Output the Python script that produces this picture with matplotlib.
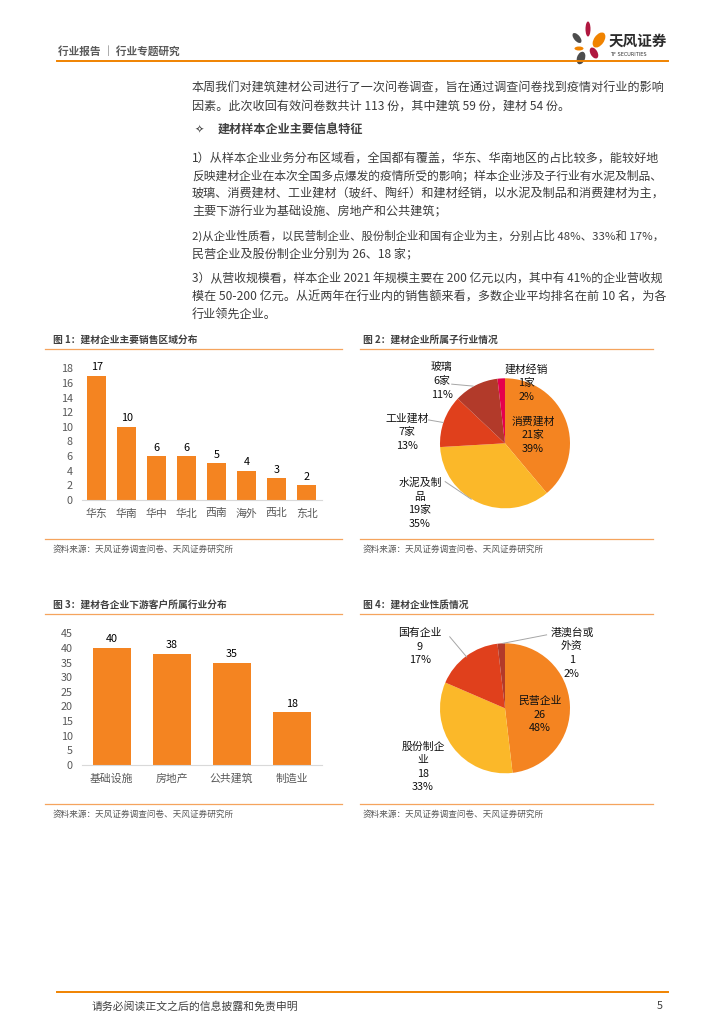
import textwrap

import matplotlib
matplotlib.use("Agg")
import matplotlib.pyplot as plt
from matplotlib.patches import Ellipse

plt.rcParams['font.family'] = ['Noto Sans CJK SC', 'DejaVu Sans']

# ---- data ----
regions = ['华东', '华南', '华中', '华北', '西南', '海外', '西北', '东北']
region_counts = [17, 10, 6, 6, 5, 4, 3, 2]

sub_names = ['消费建材', '水泥及制品', '工业建材', '玻璃', '建材经销']
sub_counts = [21, 19, 7, 6, 1]

downstream = ['基础设施', '房地产', '公共建筑', '制造业']
downstream_counts = [40, 38, 35, 18]

nature_names = ['民营企业', '股份制企业', '国有企业', '港澳台或外资']
nature_counts = [26, 18, 9, 1]

body_lines = [
    '本周我们对建筑建材公司进行了一次问卷调查，旨在通过调查问卷找到疫情对行业的影响',
    '因素。此次收回有效问卷数共计 113 份，其中建筑 59 份，建材 54 份。',
    None,
    '1）从样本企业业务分布区域看，全国都有覆盖，华东、华南地区的占比较多，能较好地',
    '反映建材企业在本次全国多点爆发的疫情所受的影响；样本企业涉及子行业有水泥及制品、',
    '玻璃、消费建材、工业建材（玻纤、陶纤）和建材经销，以水泥及制品和消费建材为主，',
    '主要下游行业为基础设施、房地产和公共建筑；',
    '2)从企业性质看，以民营制企业、股份制企业和国有企业为主，分别占比 48%、33%和 17%，',
    '民营企业及股份制企业分别为 26、18 家；',
    '3）从营收规模看，样本企业 2021 年规模主要在 200 亿元以内，其中有 41%的企业营收规',
    '模在 50-200 亿元。从近两年在行业内的销售额来看，多数企业平均排名在前 10 名，为各',
    '行业领先企业。',
]
body_y = [88, 106, 130, 158, 176, 194, 212, 236, 254, 279, 297, 315]

source = '资料来源：天风证券调查问卷、天风证券研究所'

# colours
ORANGE = '#F48421'
YELLOW = '#FBB829'
RED = '#E0401C'
BROWN = '#B23A2A'
PINK = '#E5004C'
LINE = '#F5A45E'
GREY = '#595959'

W, H = 724, 1024
fig = plt.figure(figsize=(W / 100, H / 100), dpi=100)
renderer = fig.canvas.get_renderer()

# page layer in pixel coordinates
bg = fig.add_axes([0, 0, 1, 1])
bg.set_xlim(0, W)
bg.set_ylim(H, 0)
bg.axis('off')

# header
bg.text(58, 51, '行业报告 ｜ 行业专题研究', fontsize=7.7, fontweight='bold',
        color=GREY, va='center')
bg.plot([57, 668], [60.7, 60.7], color='#F08300', lw=1.4)

# logo
petals = [
    (588, 29, 5, 15, 0, '#B0173F'),
    (577, 38, 6, 12, -40, '#4D4D4D'),
    (599, 40, 10, 17, 35, '#F08300'),
    (579, 48.5, 9, 4, 0, '#F08300'),
    (581, 58, 8, 13, 20, '#4D4D4D'),
    (594, 53, 7, 12, -30, '#B0173F'),
]
for cx, cy, w, h, ang, c in petals:
    bg.add_patch(Ellipse((cx, cy), w, h, angle=ang, color=c, lw=0))
bg.text(609, 41, '天风证券', fontsize=10.5, fontweight='bold', color='#2B2B2B',
        va='center')
bg.text(610, 55, 'TF SECURITIES', fontsize=3.6, color='#333333', va='center',
        family='DejaVu Sans')

# body text (lines wider than the column are shrunk to fit)
max_w = 474
for line, y in zip(body_lines, body_y):
    if line is None:
        bg.text(195, y, '✧', fontsize=8, color='#404040', va='center')
        bg.text(218, y, '建材样本企业主要信息特征', fontsize=8.7,
                fontweight='bold', color='#404040', va='center')
    else:
        t = bg.text(192, y, line, fontsize=8.7, color='#3C3C3C', va='center')
        w = t.get_window_extent(renderer).width
        if w > max_w:
            t.set_fontsize(8.7 * max_w / w)

# chart frames
frames = [
    (45, 342, 340, 349.3, 539.3, 549, '图 1：建材企业主要销售区域分布', 52.7),
    (360, 653, 340, 349.3, 539.3, 549, '图 2：建材企业所属子行业情况', 363),
    (45, 342, 605, 614.3, 804.3, 814, '图 3：建材各企业下游客户所属行业分布', 52.7),
    (360, 653, 605, 614.3, 804.3, 814, '图 4：建材企业性质情况', 363),
]
for x0, x1, ty, ly0, ly1, sy, title, tx in frames:
    bg.text(tx, ty, title, fontsize=7, fontweight='bold', color='#404040',
            va='center')
    bg.plot([x0, x1], [ly0, ly0], color=LINE, lw=0.9)
    bg.plot([x0, x1], [ly1, ly1], color=LINE, lw=0.9)
    bg.text(tx, sy, source, fontsize=6.2, color=GREY, va='center')

# footer
bg.plot([57, 668], [992, 992], color='#F08300', lw=1.4)
bg.text(92, 1006, '请务必阅读正文之后的信息披露和免责申明', fontsize=7.8,
        color='#404040', va='center')
bg.text(660, 1006, '5', fontsize=7.8, color='#404040', va='center', ha='center')


def bar_axes(px_left, px_bottom, px_w, px_h):
    return fig.add_axes([px_left / W, 1 - px_bottom / H, px_w / W, px_h / H])


def style_bar(ax):
    for s in ['top', 'right', 'left']:
        ax.spines[s].set_visible(False)
    ax.spines['bottom'].set_color('#D9D9D9')
    ax.spines['bottom'].set_linewidth(0.8)
    ax.tick_params(axis='y', length=0, pad=6.5, labelsize=7.8, labelcolor=GREY)
    ax.tick_params(axis='x', length=0, pad=6, labelsize=7.8, labelcolor=GREY)


# 图1
ax1 = bar_axes(81.7, 500, 240, 131.7)
b1 = ax1.bar(range(len(regions)), region_counts, width=0.63, color=ORANGE)
ax1.set_xlim(-0.5, len(regions) - 0.5)
ax1.set_ylim(0, 18)
ax1.set_yticks(range(0, 19, 2))
ax1.set_xticks(range(len(regions)))
ax1.set_xticklabels(regions)
style_bar(ax1)
ax1.bar_label(b1, padding=2.5, fontsize=7.8, color='black')

# 图3
ax3 = bar_axes(81.7, 765, 240, 131.7)
b3 = ax3.bar(range(len(downstream)), downstream_counts, width=0.63, color=ORANGE)
ax3.set_xlim(-0.5, len(downstream) - 0.5)
ax3.set_ylim(0, 45)
ax3.set_yticks(range(0, 46, 5))
ax3.set_xticks(range(len(downstream)))
ax3.set_xticklabels(downstream)
style_bar(ax3)
ax3.bar_label(b3, padding=2.5, fontsize=7.8, color='black')


def pie_chart(cx, cy, counts, names, colors, unit, label_pos, leaders):
    r = 65
    half = 125
    ax = fig.add_axes([(cx - half) / W, 1 - (cy + half) / H,
                       2 * half / W, 2 * half / H])
    ax.pie(counts, colors=colors, startangle=90, counterclock=False,
           radius=1, wedgeprops=dict(linewidth=0))
    ax.set_xlim(-half / r, half / r)
    ax.set_ylim(-half / r, half / r)
    ax.axis('off')
    total = sum(counts)
    for name, n, (lx, ly) in zip(names, counts, label_pos):
        txt = '\n'.join(textwrap.wrap(name, 4))
        txt += f'\n{n}{unit}\n{round(n / total * 100)}%'
        ax.text(lx, ly, txt, ha='center', va='center', fontsize=7.8,
                color='#111111', linespacing=1.45)
    for (xa, ya), (xb, yb) in leaders:
        ax.plot([xa, xb], [ya, yb], color='#A6A6A6', lw=0.7)
    return ax


# 图2
pie_chart(505, 443.3, sub_counts, sub_names,
          [ORANGE, YELLOW, RED, BROWN, PINK], '家',
          [(0.43, 0.13), (-1.31, -0.92), (-1.51, 0.17), (-0.97, 0.96),
           (0.33, 0.93)],
          [((-0.82, 0.91), (-0.49, 0.88)),
           ((-1.18, 0.36), (-0.95, 0.32)),
           ((-0.92, -0.59), (-0.52, -0.86))])

# 图4
pie_chart(505, 708.3, nature_counts, nature_names,
          [ORANGE, YELLOW, RED, BROWN], '',
          [(0.54, -0.10), (-1.26, -0.90), (-1.31, 0.95), (1.03, 0.85)],
          [((0.64, 1.13), (-0.03, 1.0)),
           ((-0.85, 1.10), (-0.59, 0.79))])

fig.savefig('out.png', dpi=100)
